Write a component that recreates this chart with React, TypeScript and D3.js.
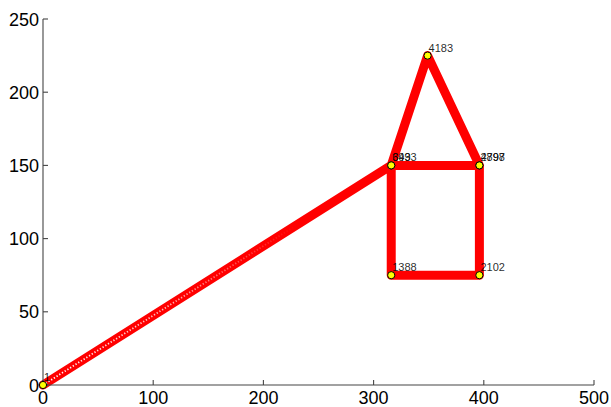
import React from "react";
import * as d3 from "d3";

// Waypoints of the traced path (x, y) and the sample index reached at each one
const waypointX = [0, 316, 316, 396, 396, 316, 349, 396];
const waypointY = [0, 150, 75, 75, 150, 150, 225, 150];
const sampleIndex = ["1", "693", "1388", "2102", "2798", "3493", "4183", "4897"];

const xTicks = [0, 100, 200, 300, 400, 500];
const yTicks = [0, 50, 100, 150, 200, 250];

const W = 611;
const H = 407;
const margin = { left: 43, right: 17, top: 19, bottom: 22 };

export default function App() {
  const x = d3.scaleLinear().domain([0, 500]).range([margin.left, W - margin.right]);
  const y = d3.scaleLinear().domain([0, 250]).range([H - margin.bottom, margin.top]);

  const pts: [number, number][] = waypointX.map((v, i) => [v, waypointY[i]]);
  const line = d3
    .line<[number, number]>()
    .x((d) => x(d[0]))
    .y((d) => y(d[1]));

  const firstLeg = line(pts.slice(0, 2)) || "";
  const axisColor = "#444";
  const tickLen = 5;

  return (
    <div style={{ position: "fixed", left: 0, top: 0 }}>
      <svg width={W} height={H} style={{ display: "block", background: "#fff" }}>
        <defs>
          <linearGradient
            id="ringFade"
            gradientUnits="userSpaceOnUse"
            x1={x(0)}
            y1={y(0)}
            x2={x(230)}
            y2={y(109)}
          >
            <stop offset="0" stopColor="#fff" stopOpacity={1} />
            <stop offset="0.5" stopColor="#fff" stopOpacity={0.7} />
            <stop offset="1" stopColor="#fff" stopOpacity={0} />
          </linearGradient>
        </defs>

        {/* traced path drawn as a thick red band */}
        <path
          d={line(pts) || ""}
          fill="none"
          stroke="#ff0000"
          strokeWidth={9}
          strokeLinejoin="round"
          strokeLinecap="round"
        />
        {/* hollow marker texture along the first leg */}
        <path
          d={firstLeg}
          fill="none"
          stroke="url(#ringFade)"
          strokeWidth={1.8}
          strokeDasharray="1.3 1.9"
        />

        {/* axes */}
        <line x1={x(0)} x2={x(500)} y1={y(0)} y2={y(0)} stroke={axisColor} strokeWidth={1.1} />
        <line x1={x(0)} x2={x(0)} y1={y(0)} y2={y(250)} stroke={axisColor} strokeWidth={1.1} />
        {xTicks.map((t) => (
          <g key={"x" + t}>
            <line x1={x(t)} x2={x(t)} y1={y(0)} y2={y(0) - tickLen} stroke={axisColor} strokeWidth={1.1} />
            <text
              x={x(t)}
              y={y(0) + 19}
              textAnchor="middle"
              fontFamily="Liberation Sans, Arial, sans-serif"
              fontSize={18}
              fill="#000"
            >
              {t}
            </text>
          </g>
        ))}
        {yTicks.map((t) => (
          <g key={"y" + t}>
            <line x1={x(0)} x2={x(0) + tickLen} y1={y(t)} y2={y(t)} stroke={axisColor} strokeWidth={1.1} />
            <text
              x={x(0) - 4}
              y={y(t) + 6.5}
              textAnchor="end"
              fontFamily="Liberation Sans, Arial, sans-serif"
              fontSize={18}
              fill="#000"
            >
              {t}
            </text>
          </g>
        ))}

        {/* waypoint markers and their sample indices */}
        {pts.map((p, i) => (
          <g key={"p" + i}>
            <circle cx={x(p[0])} cy={y(p[1])} r={3.6} fill="#ffff00" stroke="#000" strokeWidth={1} />
            <text
              x={x(p[0]) + 1}
              y={y(p[1]) - 4}
              fontFamily="Liberation Sans, Arial, sans-serif"
              fontSize={11}
              fill="#000"
              fillOpacity={0.85}
            >
              {sampleIndex[i]}
            </text>
          </g>
        ))}
      </svg>
    </div>
  );
}
